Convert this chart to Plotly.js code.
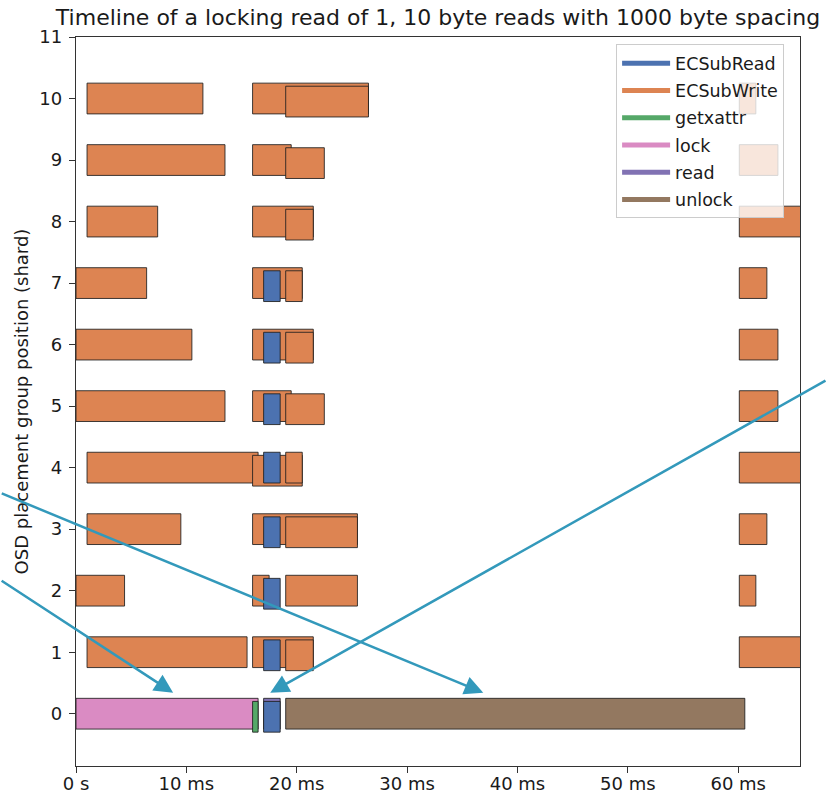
<!DOCTYPE html>
<html>
<head>
<meta charset="utf-8">
<script src="https://cdn.plot.ly/plotly-3.0.1.min.js"></script>
<style>html,body{margin:0;padding:0;background:#fff;}#chart{width:827px;height:795px;}</style>
</head>
<body>
<div id="chart"></div>
<script>
// ---- Data (times in ms, shard = OSD placement group position) ----
const legendOps = ['ECSubRead', 'ECSubWrite', 'getxattr', 'lock', 'read', 'unlock'];

const ecSubWriteShard = [10, 10, 10, 10, 9, 9, 9, 9, 8, 8, 8, 8, 7, 7, 7, 7, 6, 6, 6, 6, 5, 5, 5, 5, 4, 4, 4, 4, 3, 3, 3, 3, 2, 2, 2, 2, 1, 1, 1, 1];
const ecSubWriteStart = [1.0, 16.0, 19.0, 60.1, 1.0, 16.0, 19.0, 60.1, 1.0, 16.0, 19.0, 60.1, 0.0, 16.0, 19.0, 60.1, 0.0, 16.0, 19.0, 60.1, 0.0, 16.0, 19.0, 60.1, 1.0, 16.0, 19.0, 60.1, 1.0, 16.0, 19.0, 60.1, 0.0, 16.0, 19.0, 60.1, 1.0, 16.0, 19.0, 60.1];
const ecSubWriteEnd   = [11.5, 26.5, 26.5, 61.6, 13.5, 19.5, 22.5, 63.6, 7.4, 21.5, 21.5, 67.0, 6.4, 20.5, 20.5, 62.6, 10.5, 21.5, 21.5, 63.6, 13.5, 19.5, 22.5, 63.6, 16.5, 20.5, 20.5, 67.0, 9.5, 25.5, 25.5, 62.6, 4.4, 17.5, 25.5, 61.6, 15.5, 21.5, 21.5, 67.0];

const ecSubReadShard = [0, 1, 2, 3, 4, 5, 6, 7];
const ecSubReadStart = [17.0, 17.0, 17.0, 17.0, 17.0, 17.0, 17.0, 17.0];
const ecSubReadEnd   = [18.5, 18.5, 18.5, 18.5, 18.5, 18.5, 18.5, 18.5];

const lockShard = [0];     const lockStart = [0.0];      const lockEnd = [16.5];
const getxattrShard = [0]; const getxattrStart = [16.0]; const getxattrEnd = [16.5];
const readShard = [0];     const readStart = [17.0];     const readEnd = [18.5];
const unlockShard = [0];   const unlockStart = [19.0];   const unlockEnd = [60.6];

const xTickVals = [0, 10, 20, 30, 40, 50, 60];
const xTickText = ['0 s', '10 ms', '20 ms', '30 ms', '40 ms', '50 ms', '60 ms'];
const yTickVals = [0, 1, 2, 3, 4, 5, 6, 7, 8, 9, 10, 11];

// ---- Styles ----
const colors = {
  ECSubRead: '#4C72B0', ECSubWrite: '#DD8452', getxattr: '#55A868',
  lock: '#DA8BC3', read: '#8172B3', unlock: '#937860'
};
const BAR_H = 0.5, LANE_SHIFT = 0.05;
const FONT = 'DejaVu Sans, sans-serif';
const TXT = '#1a1a1a';

// ---- Build bar list and assign overlap lanes per shard ----
const sources = [
  ['lock', lockShard, lockStart, lockEnd],
  ['getxattr', getxattrShard, getxattrStart, getxattrEnd],
  ['read', readShard, readStart, readEnd],
  ['ECSubRead', ecSubReadShard, ecSubReadStart, ecSubReadEnd],
  ['unlock', unlockShard, unlockStart, unlockEnd],
  ['ECSubWrite', ecSubWriteShard, ecSubWriteStart, ecSubWriteEnd]
];
let bars = [];
sources.forEach(([op, sh, st, en]) => {
  sh.forEach((s, i) => bars.push({op, shard: s, start: st[i], end: en[i], idx: bars.length}));
});
bars.sort((a, b) => (a.start - b.start) || (a.idx - b.idx));
const laneEnds = {};
bars.forEach(b => {
  const le = laneEnds[b.shard] || (laneEnds[b.shard] = []);
  let lane = 0;
  while (lane < le.length && le[lane] > b.start) lane++;
  le[lane] = b.end;
  b.lane = lane;
});

// drawing order: later traces on top
const drawOrder = ['lock', 'unlock', 'ECSubWrite', 'getxattr', 'read', 'ECSubRead'];
const traces = [];
drawOrder.forEach(op => {
  const sel = bars.filter(b => b.op === op);
  traces.push({
    type: 'bar', orientation: 'h', name: op, showlegend: false,
    y: sel.map(b => b.shard - b.lane * LANE_SHIFT),
    base: sel.map(b => b.start),
    x: sel.map(b => b.end - b.start),
    width: BAR_H,
    marker: {color: colors[op], line: {color: 'rgba(30,30,30,0.85)', width: 1}},
    hoverinfo: 'skip'
  });
});
legendOps.forEach((op, i) => {
  traces.push({
    type: 'scatter', mode: 'lines', name: op, x: [null], y: [null],
    line: {color: colors[op], width: 5}, legendgroup: 'g' + i, showlegend: true
  });
});

const arrowColor = '#3399BB';
const arrowBase = {showarrow: true, text: '', arrowhead: 2, arrowsize: 1.5, arrowwidth: 2.5,
  arrowcolor: arrowColor, standoff: 0, xref: 'x', yref: 'y', axref: 'pixel', ayref: 'pixel'};

const layout = {
  width: 827, height: 795,
  margin: {l: 76, r: 27, t: 37, b: 29},
  paper_bgcolor: '#ffffff', plot_bgcolor: '#ffffff',
  barmode: 'overlay',
  font: {family: FONT, size: 18, color: TXT},
  title: {text: 'Timeline of a locking read of 1, 10 byte reads with 1000 byte spacing',
    font: {family: FONT, size: 22, color: TXT},
    x: 0.5, xref: 'paper', xanchor: 'center', y: 1 - 17 / 795, yref: 'container', yanchor: 'middle'},
  xaxis: {range: [0, 65.6], tickvals: xTickVals, ticktext: xTickText, showgrid: false, zeroline: false,
    showline: true, mirror: true, linecolor: '#333', linewidth: 1.2, ticks: 'outside', ticklen: 6,
    tickcolor: '#333', tickfont: {family: FONT, size: 18, color: TXT}, ticklabelstandoff: -5},
  yaxis: {range: [-0.85, 11], tickvals: yTickVals, showgrid: false, zeroline: false,
    showline: true, mirror: true, linecolor: '#333', linewidth: 1.2, ticks: 'outside', ticklen: 6,
    tickcolor: '#333', tickfont: {family: FONT, size: 18, color: TXT}, ticklabelstandoff: 3,
    title: {text: 'OSD placement group position (shard)', font: {family: FONT, size: 18, color: TXT}, standoff: 6}},
  legend: {x: 0.746, y: 0.99, xanchor: 'left', yanchor: 'top', bgcolor: 'rgba(255,255,255,0.8)',
    bordercolor: '#cccccc', borderwidth: 1, font: {family: FONT, size: 17.5, color: TXT},
    traceorder: 'grouped', tracegroupgap: 1.5, itemwidth: 48},
  annotations: [
    Object.assign({}, arrowBase, {x: 8.8, y: 0.34, ax: -173, ay: -113}),
    Object.assign({}, arrowBase, {x: 36.9, y: 0.34, ax: -483, ay: -200}),
    Object.assign({}, arrowBase, {x: 17.6, y: 0.34, ax: 557, ay: -313})
  ]
};

Plotly.newPlot('chart', traces, layout, {staticPlot: true, displayModeBar: false});
</script>
</body>
</html>
